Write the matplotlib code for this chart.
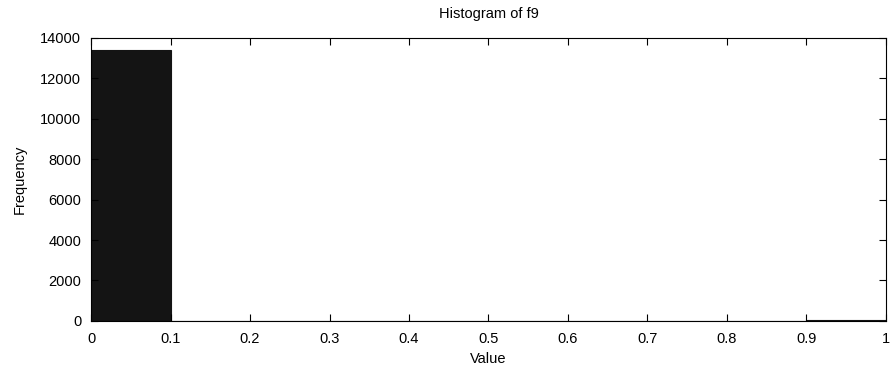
import matplotlib
matplotlib.use("Agg")
import matplotlib.pyplot as plt
import numpy as np

# histogram of f9: 10 bins over [0, 1]
binEdges = [0, 0.1, 0.2, 0.3, 0.4, 0.5, 0.6, 0.7, 0.8, 0.9, 1.0]
binCounts = [13400, 2, 3, 10, 5, 8, 6, 5, 8, 45]
xTicks = [0, 0.1, 0.2, 0.3, 0.4, 0.5, 0.6, 0.7, 0.8, 0.9, 1]
xTickLabels = ["0", "0.1", "0.2", "0.3", "0.4", "0.5", "0.6", "0.7", "0.8", "0.9", "1"]
yTicks = [0, 2000, 4000, 6000, 8000, 10000, 12000, 14000]

plt.rcParams['font.family'] = ['Liberation Sans', 'DejaVu Sans']
plt.rcParams['font.size'] = 10.5

fig = plt.figure(figsize=(8.93, 3.71), dpi=100)
ax = fig.add_axes([0.102, 0.135, 0.89, 0.763])
widths = np.diff(binEdges)
ax.bar(binEdges[:-1], binCounts, width=widths, align='edge',
       color='#141414', edgecolor='#141414', linewidth=0.8)
ax.set_xlim(0, 1)
ax.set_ylim(0, 14000)
ax.set_xticks(xTicks)
ax.set_xticklabels(xTickLabels)
ax.set_yticks(yTicks)
ax.tick_params(direction='in', top=True, right=True, length=5, width=0.8, colors='black')
ax.tick_params(axis='x', pad=8)
ax.tick_params(axis='y', pad=7)
for s in ax.spines.values():
    s.set_linewidth(0.8)
ax.set_title("Histogram of f9", fontsize=10.5, pad=14)
ax.set_xlabel("Value", labelpad=4)
ax.set_ylabel("Frequency", labelpad=10)
fig.savefig("out.png", dpi=100)
